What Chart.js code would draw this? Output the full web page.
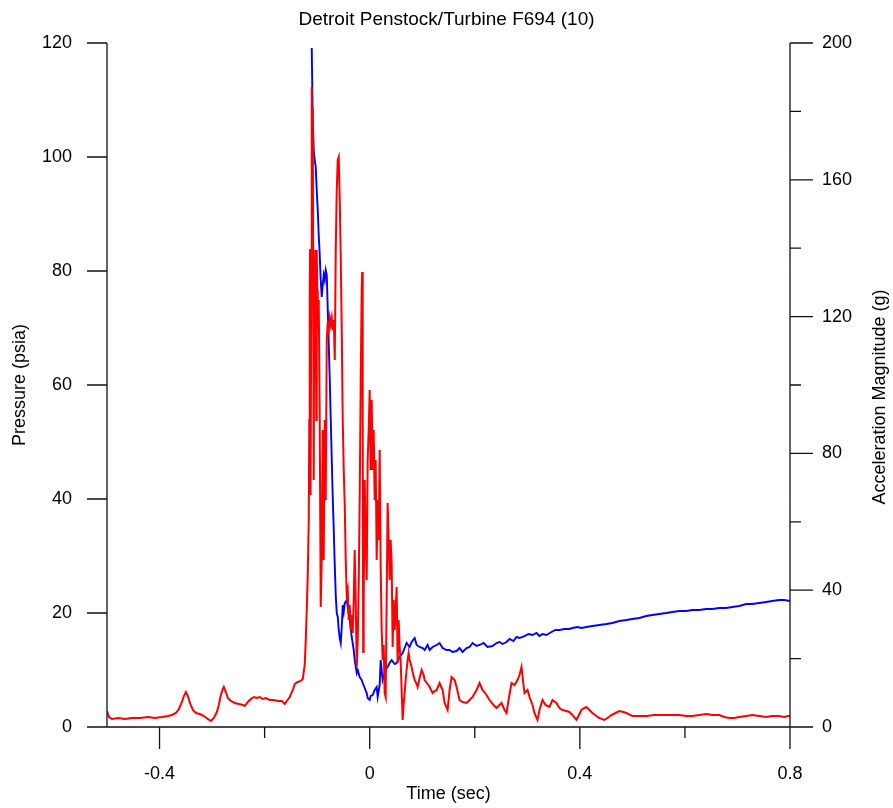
<!DOCTYPE html>
<html>
<head>
<meta charset="utf-8">
<script src="https://cdn.jsdelivr.net/npm/chart.js@4.4.1/dist/chart.umd.min.js"></script>
<style>
  html, body { margin: 0; padding: 0; background: #fff; }
  #wrap { width: 893px; height: 808px; }
</style>
</head>
<body>
<div id="wrap"><canvas id="chart" width="893" height="808"></canvas></div>
<script>
// acceleration trace (red, right axis, g)
const redTime = [
  -0.5,-0.4962,-0.4905,-0.4791,-0.4658,-0.4525,-0.4373,-0.4221,-0.4087,-0.3954,
  -0.3840,-0.3764,-0.3688,-0.3631,-0.3574,-0.3536,-0.3498,-0.3460,-0.3422,-0.3365,
  -0.3308,-0.3232,-0.3156,-0.3080,-0.3023,-0.2966,-0.2909,-0.2871,-0.2833,-0.2795,
  -0.2776,-0.2738,-0.2700,-0.2643,-0.2567,-0.2490,-0.2414,-0.2376,-0.2319,-0.2262,
  -0.2205,-0.2148,-0.2091,-0.2034,-0.1977,-0.1901,-0.1825,-0.1749,-0.1673,-0.1616,
  -0.1578,-0.1521,-0.1464,-0.1426,-0.1369,-0.1312,-0.1274,-0.1236,-0.1217,-0.1198,
  -0.1179,-0.1160,-0.1150,-0.1141,-0.1135,-0.1129,-0.1122,-0.1112,-0.1103,-0.1093,
  -0.1084,-0.1074,-0.1065,-0.1055,-0.1046,-0.1036,-0.1027,-0.1017,-0.1008,-0.0998,
  -0.0989,-0.0970,-0.0951,-0.0932,-0.0913,-0.0894,-0.0875,-0.0856,-0.0837,-0.0817,
  -0.0798,-0.0779,-0.0760,-0.0741,-0.0722,-0.0703,-0.0684,-0.0665,-0.0646,-0.0627,
  -0.0608,-0.0589,-0.0570,-0.0551,-0.0532,-0.0513,-0.0494,-0.0475,-0.0456,-0.0437,
  -0.0418,-0.0399,-0.0380,-0.0361,-0.0342,-0.0323,-0.0304,-0.0285,-0.0266,-0.0247,
  -0.0228,-0.0209,-0.0190,-0.0171,-0.0152,-0.0143,-0.0133,-0.0124,-0.0114,-0.0095,
  -0.0076,-0.0057,-0.0038,-0.0019,0,0.0019,0.0038,0.0057,0.0076,0.0095,
  0.0114,0.0133,0.0152,0.0171,0.0190,0.0209,0.0228,0.0247,0.0266,0.0285,
  0.0304,0.0323,0.0342,0.0361,0.0380,0.0399,0.0418,0.0437,0.0456,0.0475,
  0.0494,0.0513,0.0532,0.0551,0.0570,0.0589,0.0608,0.0627,0.0646,0.0665,
  0.0684,0.0703,0.0722,0.0741,0.0760,0.0798,0.0817,0.0856,0.0894,0.0913,
  0.0951,0.0989,0.1027,0.1046,0.1103,0.1141,0.1198,0.1236,0.1274,0.1331,
  0.1388,0.1426,0.1483,0.1521,0.1559,0.1616,0.1654,0.1711,0.1768,0.1844,
  0.1901,0.1958,0.2034,0.2091,0.2148,0.2224,0.2281,0.2357,0.2414,0.2471,
  0.2510,0.2567,0.2605,0.2643,0.2700,0.2757,0.2814,0.2852,0.2890,0.2928,
  0.2947,0.3004,0.3042,0.3099,0.3137,0.3194,0.3232,0.3289,0.3346,0.3422,
  0.3479,0.3555,0.3612,0.3669,0.3745,0.3802,0.3859,0.3935,0.3992,0.4030,
  0.4087,0.4125,0.4183,0.4240,0.4316,0.4373,0.4468,0.4525,0.4601,0.4677,
  0.4753,0.4829,0.4886,0.5000,0.5133,0.5266,0.5418,0.5646,0.5798,0.5894,
  0.6027,0.6141,0.6274,0.6407,0.6521,0.6654,0.6749,0.6844,0.6939,0.7034,
  0.7167,0.7281,0.7414,0.7548,0.7662,0.7795,0.7890,0.7966,0.8
];
const redAccel = [
  4.68,2.92,2.34,2.63,2.34,2.63,2.63,2.92,2.63,2.92,
  3.22,3.51,4.09,5.26,7.31,9.06,10.23,9.06,7.02,4.97,
  4.09,3.80,3.22,2.34,1.75,2.63,4.39,6.43,9.36,11.11,
  11.70,10.23,8.48,7.60,7.02,6.73,6.43,6.14,7.31,8.19,
  8.77,8.48,8.77,8.19,8.48,7.89,7.89,7.60,7.60,6.73,
  7.60,8.77,10.82,12.57,13.16,13.45,14.04,18.13,25.44,34.21,
  44.44,60.53,89.77,124.85,139.77,75.15,67.84,124.85,187.13,154.09,
  181.0,124.85,72.22,136.55,116.08,139.47,124.85,89.77,139.47,127.78,
  116.08,124.85,89.77,35.09,48.83,86.84,48.83,89.77,66.37,113.16,
  118.42,116.08,119.59,117.54,119.59,116.08,119.01,107.31,139.47,157.02,
  165.79,166.67,154.09,137.43,116.08,89.77,75.15,64.91,48.83,38.60,
  40.06,31.29,35.67,28.36,32.75,27.49,37.13,51.75,37.13,17.54,
  25.44,42.11,66.37,101.46,127.78,133.04,89.77,21.93,37.13,72.22,
  54.68,42.98,78.07,86.84,98.54,75.15,95.61,75.15,86.84,66.37,
  78.07,48.83,66.37,54.68,80.99,46.78,28.36,19.59,23.98,9.94,
  8.77,37.13,65.50,54.68,42.98,54.68,47.95,23.39,37.13,28.36,
  34.21,40.94,18.71,31.29,23.39,19.59,10.82,2.05,6.43,9.94,
  13.74,16.67,19.59,21.64,19.59,17.54,16.08,13.74,12.57,11.70,
  14.33,16.67,15.20,13.74,12.57,11.70,9.94,10.53,10.82,12.87,
  10.82,7.02,4.97,10.82,14.62,13.74,11.70,7.89,7.31,7.02,
  7.89,8.77,10.82,12.87,10.82,9.36,7.89,6.43,5.56,6.43,
  7.02,4.97,4.09,7.89,12.87,12.28,13.74,15.20,17.54,12.28,
  9.94,10.82,8.77,6.43,4.09,2.05,4.97,7.89,6.43,5.85,
  7.89,7.02,5.56,4.97,4.68,4.39,3.51,2.05,3.80,4.97,
  5.56,5.85,4.97,4.09,3.22,2.63,2.05,2.63,3.51,4.09,
  4.68,4.39,4.09,3.22,3.22,3.22,3.51,3.51,3.51,3.51,
  3.22,3.22,3.51,3.80,3.51,3.51,2.92,2.63,2.63,2.92,
  3.22,3.51,3.22,2.92,3.22,3.22,2.92,3.22,3.22
];

// pressure trace (blue, left axis, psia)
const blueTime = [
  -0.1103,-0.1084,-0.1065,-0.1046,-0.1027,-0.1008,-0.0989,-0.0970,-0.0951,
  -0.0932,-0.0913,-0.0894,-0.0875,-0.0856,-0.0837,-0.0817,-0.0798,-0.0779,-0.0760,
  -0.0741,-0.0722,-0.0703,-0.0684,-0.0665,-0.0646,-0.0627,-0.0608,-0.0589,-0.0570,
  -0.0551,-0.0532,-0.0513,-0.0494,-0.0475,-0.0437,-0.0418,-0.0380,-0.0342,-0.0304,
  -0.0285,-0.0247,-0.0228,-0.0190,-0.0152,-0.0133,-0.0095,-0.0057,-0.0038,0,
  0.0019,0.0057,0.0095,0.0133,0.0152,0.0190,0.0209,0.0228,0.0247,0.0285,
  0.0323,0.0342,0.0380,0.0418,0.0475,0.0513,0.0570,0.0627,0.0665,0.0703,
  0.0760,0.0798,0.0856,0.0894,0.0951,0.1008,0.1046,0.1103,0.1141,0.1198,
  0.1274,0.1331,0.1388,0.1464,0.1521,0.1578,0.1654,0.1711,0.1768,0.1844,
  0.1901,0.1958,0.2034,0.2091,0.2167,0.2243,0.2338,0.2414,0.2471,0.2529,
  0.2605,0.2662,0.2738,0.2795,0.2852,0.2947,0.3023,0.3099,0.3175,0.3232,
  0.3289,0.3365,0.3460,0.3536,0.3612,0.3707,0.3802,0.3859,0.3954,0.4030,
  0.4125,0.4240,0.4373,0.4506,0.4620,0.4753,0.4886,0.5000,0.5133,0.5266,
  0.5380,0.5513,0.5646,0.5760,0.5894,0.6027,0.6141,0.6274,0.6407,0.6521,
  0.6654,0.6787,0.6901,0.7034,0.7167,0.7281,0.7414,0.7548,0.7662,0.7795,
  0.7890,0.8
];
const bluePressure = [
  119.12,106.49,101.05,99.47,98.25,94.21,90.70,86.32,82.81,
  78.42,75.44,77.54,79.30,78.42,80.18,79.30,73.16,67.02,60.88,
  53.86,46.84,40.18,34.56,28.42,23.16,20.00,19.30,17.02,15.61,
  14.74,17.54,21.40,20.18,21.75,22.28,21.05,18.77,15.79,13.51,
  11.75,9.47,10.00,8.77,8.25,7.72,6.84,5.96,5.09,4.74,
  5.44,5.61,6.49,7.02,5.26,7.37,11.75,10.00,8.25,9.47,
  10.35,10.53,11.23,11.75,11.05,11.23,12.28,12.98,13.86,14.74,
  14.04,14.91,15.61,14.39,14.04,13.86,13.51,14.39,13.51,14.04,
  14.39,14.74,13.86,13.51,13.51,13.16,13.33,13.86,13.16,13.86,
  14.04,14.74,14.21,14.39,14.74,14.04,14.21,14.74,14.91,14.56,
  14.91,15.44,15.09,15.79,15.61,15.96,16.32,16.14,16.49,15.96,
  16.32,16.14,16.67,17.02,17.02,17.19,17.19,17.37,17.54,17.37,
  17.54,17.72,17.89,18.07,18.25,18.60,18.77,18.95,19.12,19.47,
  19.65,19.82,20.00,20.18,20.35,20.35,20.53,20.53,20.70,20.70,
  20.88,20.88,21.05,21.23,21.58,21.58,21.75,21.93,22.11,22.28,
  22.28,22.11
];

// axis ticks
const timeTicks = [-0.4, -0.2, 0, 0.2, 0.4, 0.6, 0.8];
const timeLabels = [-0.4, 0, 0.4, 0.8];
const pressureTicks = [0, 20, 40, 60, 80, 100, 120];
const accelTicks = [0, 20, 40, 60, 80, 100, 120, 140, 160, 180, 200];
const accelLabels = [0, 40, 80, 120, 160, 200];

const FONT = "'Liberation Sans', Arial, sans-serif";
Chart.defaults.color = '#000';
Chart.defaults.font.family = FONT;

const toPoints = (xs, ys) => xs.map((t, i) => ({ x: t, y: ys[i] }));

const axisPlugin = {
  id: 'axisLines',
  afterDraw(chart) {
    const { ctx, chartArea: a, scales } = chart;
    ctx.save();
    ctx.strokeStyle = '#111';
    ctx.lineWidth = 1.3;
    ctx.beginPath();
    ctx.moveTo(a.left, a.top); ctx.lineTo(a.left, a.bottom);
    ctx.moveTo(a.right, a.top); ctx.lineTo(a.right, a.bottom);
    ctx.moveTo(a.left, a.bottom); ctx.lineTo(a.right, a.bottom);
    pressureTicks.forEach(v => {
      const py = scales.y.getPixelForValue(v);
      ctx.moveTo(a.left - 20, py); ctx.lineTo(a.left, py);
    });
    accelTicks.forEach(v => {
      const py = scales.y2.getPixelForValue(v);
      const len = accelLabels.includes(v) ? 23 : 11;
      ctx.moveTo(a.right, py); ctx.lineTo(a.right + len, py);
    });
    timeTicks.forEach(v => {
      const px = scales.x.getPixelForValue(v);
      const len = timeLabels.includes(v) ? 22 : 11;
      ctx.moveTo(px, a.bottom); ctx.lineTo(px, a.bottom + len);
    });
    ctx.stroke();

    // right axis title reads bottom to top
    ctx.fillStyle = '#000';
    ctx.font = '18px ' + FONT;
    ctx.textAlign = 'center';
    ctx.textBaseline = 'middle';
    ctx.translate(880, (a.top + a.bottom) / 2 + 12);
    ctx.rotate(-Math.PI / 2);
    ctx.fillText('Acceleration Magnitude (g)', 0, 0);
    ctx.restore();
  }
};

new Chart(document.getElementById('chart'), {
  type: 'line',
  data: {
    datasets: [
      {
        label: 'Acceleration',
        data: toPoints(redTime, redAccel),
        yAxisID: 'y2',
        borderColor: '#ff0000',
        borderWidth: 2
      },
      {
        label: 'Pressure',
        data: toPoints(blueTime, bluePressure),
        yAxisID: 'y',
        borderColor: '#0000ff',
        borderWidth: 1.9
      }
    ]
  },
  options: {
    responsive: false,
    devicePixelRatio: 1,
    animation: false,
    elements: { point: { radius: 0 }, line: { tension: 0 } },
    layout: { padding: 0, autoPadding: false },
    plugins: {
      legend: { display: false },
      tooltip: { enabled: false },
      title: {
        display: true,
        text: 'Detroit Penstock/Turbine F694 (10)',
        color: '#000',
        font: { size: 19, weight: 'normal', family: FONT },
        padding: { top: 8.6, bottom: 11.6 }
      }
    },
    scales: {
      x: {
        type: 'linear',
        min: -0.5,
        max: 0.8,
        afterBuildTicks: s => { s.ticks = timeTicks.map(v => ({ value: v })); },
        afterFit: s => { s.height = 81; },
        // tick marks themselves are drawn by axisPlugin; tickLength only spaces the labels
        grid: { display: false, drawTicks: true, tickLength: 31 },
        border: { display: false },
        ticks: {
          padding: 5,
          maxRotation: 0,
          autoSkip: false,
          font: { size: 18 },
          callback: v => timeLabels.includes(v) ? String(v) : ''
        },
        title: {
          display: true,
          text: 'Time (sec)',
          font: { size: 18 },
          padding: { top: 0, bottom: 3 }
        }
      },
      y: {
        position: 'left',
        min: 0,
        max: 120,
        afterBuildTicks: s => { s.ticks = pressureTicks.map(v => ({ value: v })); },
        afterFit: s => { s.width = 107; },
        grid: { display: false, drawTicks: true, tickLength: 30 },
        border: { display: false },
        ticks: { padding: 5, font: { size: 18 } },
        title: {
          display: true,
          text: 'Pressure (psia)',
          font: { size: 18 },
          padding: { top: 9, bottom: 0 }
        }
      },
      y2: {
        position: 'right',
        min: 0,
        max: 200,
        afterBuildTicks: s => { s.ticks = accelTicks.map(v => ({ value: v })); },
        afterFit: s => { s.width = 103; },
        grid: { display: false, drawTicks: true, tickLength: 27 },
        border: { display: false },
        ticks: {
          padding: 5,
          font: { size: 18 },
          callback: v => accelLabels.includes(v) ? String(v) : ''
        }
      }
    }
  },
  plugins: [axisPlugin]
});
</script>
</body>
</html>
